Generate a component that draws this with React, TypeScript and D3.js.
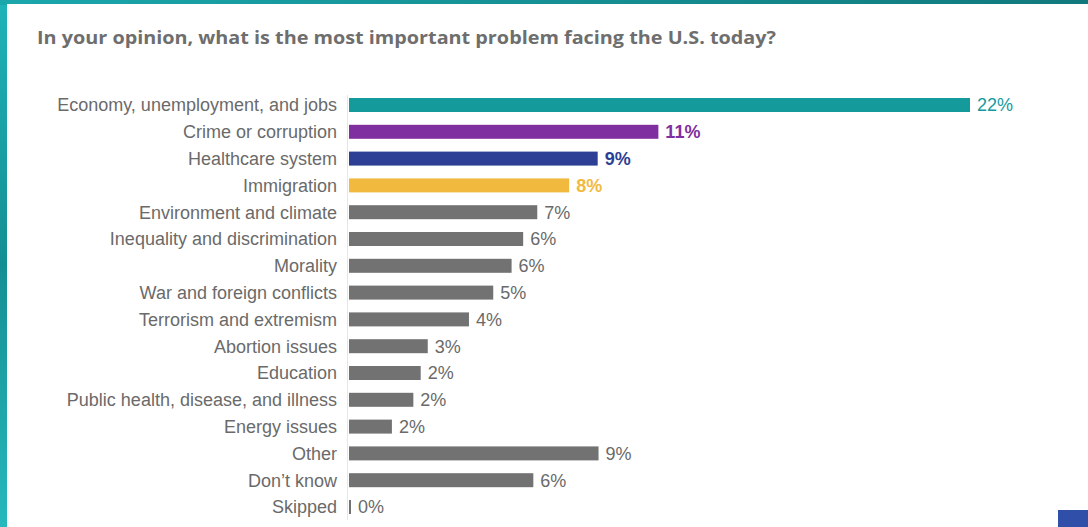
import React from "react";
import * as d3 from "d3";

const categories = [
  "Economy, unemployment, and jobs",
  "Crime or corruption",
  "Healthcare system",
  "Immigration",
  "Environment and climate",
  "Inequality and discrimination",
  "Morality",
  "War and foreign conflicts",
  "Terrorism and extremism",
  "Abortion issues",
  "Education",
  "Public health, disease, and illness",
  "Energy issues",
  "Other",
  "Don’t know",
  "Skipped",
];
const values = [22.0, 10.96, 8.81, 7.8, 6.67, 6.17, 5.76, 5.11, 4.25, 2.79, 2.54, 2.28, 1.52, 8.84, 6.53, 0.07];
const valueLabels = ["22%", "11%", "9%", "8%", "7%", "6%", "6%", "5%", "4%", "3%", "2%", "2%", "2%", "9%", "6%", "0%"];
const barColors = ["#159a9c", "#7f2f9f", "#2d3f94", "#f2b93f"];
const GRAY_BAR = "#727272";
const GRAY_TEXT = "#6a6a6a";
const title = "In your opinion, what is the most important problem facing the U.S. today?";

export default function App() {
  const W = 1088;
  const H = 527;
  const x = d3.scaleLinear().domain([0, 22]).range([349, 970]);
  const y = d3
    .scaleBand<string>()
    .domain(categories)
    .range([91.6, 520.4])
    .paddingInner(0.478)
    .paddingOuter(0.239);
  const bw = y.bandwidth();
  const font = "'Liberation Sans', Arial, sans-serif";

  return (
    <svg
      width={W}
      height={H}
      style={{ position: "absolute", left: 0, top: 0, display: "block" }}
    >
      <defs>
        <linearGradient id="tealbg" x1="0" y1="0" x2="0" y2="1">
          <stop offset="0" stopColor="#1fb3b8" />
          <stop offset="0.5" stopColor="#138f93" />
          <stop offset="1" stopColor="#27b9bd" />
        </linearGradient>
        <linearGradient id="toptl" x1="0" y1="0" x2="1" y2="0">
          <stop offset="0" stopColor="#1aa7ac" />
          <stop offset="1" stopColor="#11797c" />
        </linearGradient>
      </defs>
      <rect x={0} y={0} width={W} height={H} fill="url(#tealbg)" />
      <rect x={0} y={0} width={W} height={5} fill="url(#toptl)" />
      <rect x={7} y={4} width={W - 7} height={H - 4} fill="#ffffff" />
      <rect x={1058} y={510} width={30} height={17} fill="#2f4fa8" />

      <text
        x={37}
        y={44}
        fontFamily="'Open Sans', sans-serif"
        fontWeight={700}
        fontSize={18.5}
        fill="#6e6e6e"
        textLength={739}
        lengthAdjust="spacingAndGlyphs"
      >
        {title}
      </text>

      <line x1={347.5} x2={347.5} y1={95} y2={520} stroke="#e6e6e6" strokeWidth={1} />

      <g fontFamily={font} fontSize={18}>
        {categories.map((c, i) => {
          const yy = y(c) as number;
          const cy = yy + bw / 2;
          const color = i < barColors.length ? barColors[i] : GRAY_BAR;
          const lblColor = i < barColors.length ? barColors[i] : GRAY_TEXT;
          return (
            <g key={c}>
              <text x={337} y={cy} dy="0.35em" textAnchor="end" fill={GRAY_TEXT}>
                {c}
              </text>
              <rect x={x(0)} y={yy} width={Math.max(x(values[i]) - x(0), 2)} height={bw} fill={color} />
              <text
                x={x(values[i]) + 7}
                y={cy}
                dy="0.35em"
                fill={lblColor}
                fontWeight={i > 0 && i < 4 ? 700 : 400}
              >
                {valueLabels[i]}
              </text>
            </g>
          );
        })}
      </g>
    </svg>
  );
}
